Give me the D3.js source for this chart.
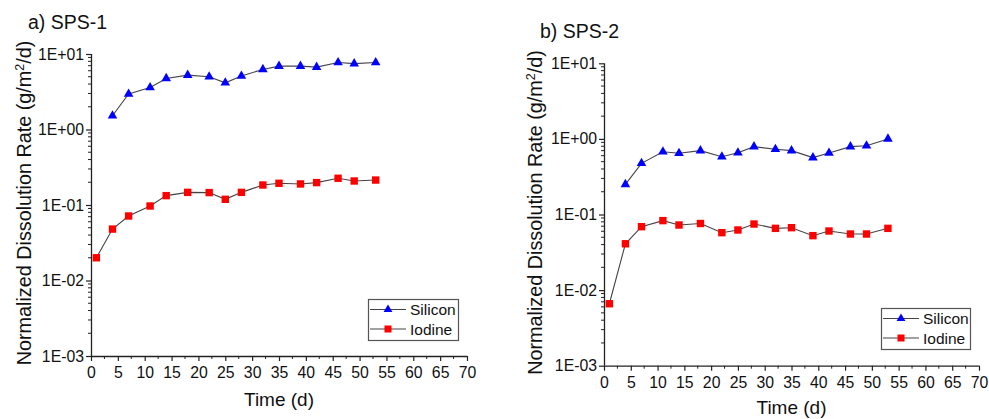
<!DOCTYPE html>
<html><head><meta charset="utf-8">
<script src="https://cdn.jsdelivr.net/npm/d3@7"></script>
<style>body{margin:0;background:#fff}svg{display:block}text{font-family:"Liberation Sans",Arial,sans-serif}</style>
</head><body>
<svg id="c" width="989" height="419"></svg>
<script>
const days1Si = [4,7,11,14,18,22,25,28,32,35,39,42,46,49,53];
const days1I  = [1,4,7,11,14,18,22,25,28,32,35,39,42,46,49,53];
const sps1Silicon = [1.52,2.95,3.6,4.75,5.25,5.0,4.15,5.1,6.25,6.9,6.9,6.7,7.7,7.45,7.7];
const sps1Iodine  = [0.020,0.048,0.0715,0.097,0.133,0.147,0.146,0.119,0.147,0.184,0.194,0.19,0.198,0.226,0.208,0.214];
const days2Si = [4,7,11,14,18,22,25,28,32,35,39,42,46,49,53];
const days2I  = [1,4,7,11,14,18,22,25,28,32,35,39,42,46,49,53];
const sps2Silicon = [0.25,0.475,0.675,0.645,0.70,0.58,0.655,0.79,0.73,0.70,0.565,0.65,0.79,0.81,1.0];
const sps2Iodine  = [0.0066,0.041,0.069,0.083,0.0726,0.076,0.0575,0.0624,0.0748,0.0656,0.0669,0.0525,0.0605,0.0552,0.0552,0.0656];
const xTicks = [0,5,10,15,20,25,30,35,40,45,50,55,60,65,70];
const yTicks = [1e-3,1e-2,1e-1,1,10];
const seriesNames = ["Silicon","Iodine"];
const panelTitles = ["a) SPS-1","b) SPS-2"];

const svg = d3.select("#c");
const fmt = d => { const e = Math.round(Math.log10(d)); return "1E" + (e>=0?"+":"-") + String(Math.abs(e)).padStart(2,"0"); };

function panel(cfg){
  const x = d3.scaleLinear().domain([0,70]).range([cfg.x0,cfg.x1]);
  const y = d3.scaleLog().domain([1e-3,10]).range([cfg.y0,cfg.y1]);
  const g = svg.append("g");
  const axisCol = "#222";
  const minorY = [];
  for (let e=-3;e<1;e++) for (let m=2;m<=9;m++) minorY.push(m*Math.pow(10,e));
  g.selectAll(".my").data(minorY).join("line")
    .attr("x1",cfg.x0).attr("x2",cfg.x0-3).attr("y1",d=>y(d)).attr("y2",d=>y(d))
    .attr("stroke",axisCol).attr("stroke-width",1);
  const minorX = d3.range(2.5,70,5);
  g.selectAll(".mx").data(minorX).join("line")
    .attr("x1",d=>x(d)).attr("x2",d=>x(d)).attr("y1",cfg.y0).attr("y2",cfg.y0+3)
    .attr("stroke",axisCol).attr("stroke-width",1);
  const ya = g.append("g").attr("transform",`translate(${cfg.x0},0)`)
    .call(d3.axisLeft(y).tickValues(yTicks).tickFormat(fmt).tickSize(5).tickPadding(2));
  const xa = g.append("g").attr("transform",`translate(0,${cfg.y0})`)
    .call(d3.axisBottom(x).tickValues(xTicks).tickSize(5).tickPadding(6));
  [ya,xa].forEach(a=>{
    a.select(".domain").attr("stroke",axisCol).attr("stroke-width",1.3);
    a.selectAll(".tick line").attr("stroke",axisCol).attr("stroke-width",1.2);
    a.selectAll("text").attr("font-size",15.8).attr("fill","#111").style("font-family","Liberation Sans, Arial, sans-serif");
  });
  ya.select(".domain").attr("d",`M0.5,${cfg.y0}V${cfg.y1}`);
  xa.select(".domain").attr("d",`M${cfg.x0},0.5H${cfg.x1}`);

  const line = d3.line().x(d=>x(d[0])).y(d=>y(d[1]));
  const si = cfg.daysSi.map((d,i)=>[d,cfg.si[i]]);
  const io = cfg.daysI.map((d,i)=>[d,cfg.io[i]]);
  [si,io].forEach(s=>g.append("path").attr("d",line(s)).attr("fill","none").attr("stroke","#444").attr("stroke-width",1.1));
  const tri = d3.symbol().type(d3.symbolTriangle).size(40);
  g.selectAll(".si").data(si).join("path")
    .attr("d",tri).attr("transform",d=>`translate(${x(d[0])},${y(d[1])})`).attr("fill","#0000ff");
  g.selectAll(".io").data(io).join("rect")
    .attr("x",d=>x(d[0])-3.7).attr("y",d=>y(d[1])-3.7).attr("width",7.4).attr("height",7.4).attr("fill","#ff0000");

  svg.append("text").attr("x",cfg.tx).attr("y",cfg.ty).attr("font-size",19.5).attr("fill","#111").text(cfg.title);
  svg.append("text").attr("transform",`translate(${cfg.ylx},${cfg.ylc}) rotate(-90)`)
    .attr("text-anchor","middle").attr("font-size",19.8).attr("fill","#111")
    .html('Normalized Dissolution Rate (g/m<tspan dy="-7" font-size="12.5">2</tspan><tspan dy="7">/d)</tspan>');
  svg.append("text").attr("x",(cfg.x0+cfg.x1)/2).attr("y",cfg.xly).attr("text-anchor","middle")
    .attr("font-size",19).attr("fill","#111").text("Time (d)");

  const L = cfg.leg;
  const lg = svg.append("g").attr("transform",`translate(${L[0]},${L[1]})`);
  lg.append("rect").attr("x",0.5).attr("y",0.5).attr("width",L[2]).attr("height",L[3]).attr("fill","#fff").attr("stroke","#555").attr("stroke-width",1.2);
  seriesNames.forEach((n,i)=>{
    const yy = 10.5 + i*19.5;
    lg.append("line").attr("x1",2).attr("x2",38).attr("y1",yy).attr("y2",yy).attr("stroke","#444").attr("stroke-width",1.1);
    if(i===0) lg.append("path").attr("d",d3.symbol().type(d3.symbolTriangle).size(34)()).attr("transform",`translate(20,${yy})`).attr("fill","#0000ff");
    else lg.append("rect").attr("x",16.5).attr("y",yy-3.5).attr("width",7).attr("height",7).attr("fill","#ff0000");
    lg.append("text").attr("x",42).attr("y",yy+5.5).attr("font-size",15.5).attr("fill","#111").text(n);
  });
}

panel({x0:91,x1:467,y0:356,y1:54,daysSi:days1Si,daysI:days1I,si:sps1Silicon,io:sps1Iodine,
  title:panelTitles[0],tx:28,ty:29,ylx:31,ylc:203,xly:406,leg:[368,299,90,41]});
panel({x0:604,x1:979,y0:365.7,y1:63.3,daysSi:days2Si,daysI:days2I,si:sps2Silicon,io:sps2Iodine,
  title:panelTitles[1],tx:540,ty:37.5,ylx:542,ylc:212.5,xly:414,leg:[881,308,89,41]});
</script>
</body></html>
